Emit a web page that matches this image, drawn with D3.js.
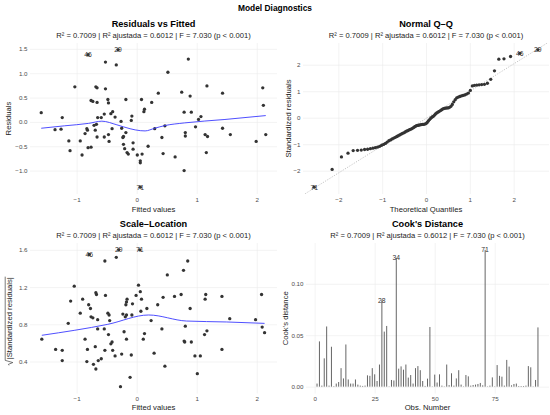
<!DOCTYPE html>
<html>
<head>
<meta charset="utf-8">
<script src="https://cdn.jsdelivr.net/npm/d3@7"></script>
<style>
  body { margin: 0; background: #fff; }
  text { font-family: "Liberation Sans", Arial, sans-serif; }
</style>
</head>
<body>
<script>
/* model diagnostics - four panels */

var subtitle = "R\u00b2 = 0.7009 | R\u00b2 ajustada = 0.6012 | F = 7.030 (p < 0.001)";

// residuals vs fitted
var rvfFitted = [-1.59,-1.36,-1.24,-1.26,-1.13,-1.11,-1.03,-0.94,-0.91,-0.86,
  -0.83,-0.82,-0.81,-0.76,-0.76,-0.73,-0.71,-0.69,-0.68,-0.66,
  -0.66,-0.67,-0.66,-0.65,-0.59,-0.54,-0.54,-0.52,-0.52,-0.48,
  -0.47,-0.47,-0.46,-0.43,-0.40,-0.41,-0.36,-0.34,-0.26,-0.25,
  -0.23,-0.22,-0.22,-0.20,-0.18,-0.18,-0.16,-0.14,-0.09,-0.08,
  -0.06,-0.06,0.01,0.06,0.06,0.08,0.09,0.12,0.13,0.19,
  0.25,0.30,0.36,0.42,0.44,0.47,0.52,0.64,0.75,0.79,
  0.81,0.81,0.79,0.86,0.89,0.91,0.98,1.03,1.07,1.14,
  1.16,1.17,1.18,1.43,1.43,1.56,1.99,2.10,2.11,2.15];
var rvfResid = [0.19,-0.16,0.09,-0.15,-0.39,-0.59,0.72,-0.39,-0.68,-0.24,
  -0.14,-0.17,-0.53,-0.52,0.44,0.42,-0.07,-0.17,0.72,0.70,
  0.40,-0.05,-0.31,0.09,0.09,0.16,-0.31,1.23,0.68,0.46,
  0.39,-0.26,-0.40,0.17,0.21,-0.14,0.10,1.17,0.01,-0.13,
  -0.32,-0.30,-0.46,-0.55,0.46,-0.22,-0.63,-0.66,0.03,0.12,
  -0.43,-0.56,-0.68,-0.80,-0.84,0.46,-0.66,0.21,0.26,-0.50,
  0.40,-0.14,0.59,-0.32,-0.65,-0.08,1.02,-0.72,0.61,0.20,
  -0.22,-0.29,-1.00,1.29,0.53,0.20,-0.10,0.05,0.11,-0.26,
  -0.63,0.74,-0.30,0.59,-0.13,-0.26,-0.40,0.70,0.34,-0.26];
var rvfLabelText = ["46", "29", "71"];
var rvfLabelFitted = [-0.81, -0.31, 0.06];
var rvfLabelResid = [1.38, 1.48, -1.34];
var rvfSmoothX = [-1.59,-1.2,-0.8,-0.58,-0.33,-0.11,0.06,0.14,0.3,0.47,0.8,1.47,2.15];
var rvfSmoothY = [-0.13,-0.08,-0.03,0.015,-0.06,-0.14,-0.18,-0.185,-0.13,-0.075,-0.02,0.05,0.13];

// normal q-q (sorted standardized residuals)
var qqSample = [-2.62,-1.95,-1.48,-1.34,-1.24,-1.23,-1.22,-1.20,-1.19,-1.17,
  -1.15,-1.13,-1.11,-1.08,-1.04,-1.01,-0.97,-0.92,-0.87,-0.84,
  -0.80,-0.77,-0.74,-0.71,-0.68,-0.65,-0.62,-0.59,-0.57,-0.54,
  -0.51,-0.49,-0.46,-0.44,-0.42,-0.39,-0.36,-0.33,-0.30,-0.29,
  -0.28,-0.27,-0.26,-0.255,-0.25,-0.24,-0.22,-0.18,-0.12,-0.07,
  -0.02,0.02,0.05,0.09,0.14,0.18,0.21,0.24,0.27,0.30,
  0.33,0.35,0.36,0.37,0.37,0.39,0.43,0.50,0.60,0.68,
  0.75,0.78,0.80,0.82,0.84,0.86,0.89,0.93,1.03,1.20,
  1.22,1.23,1.24,1.25,1.26,1.30,1.45,1.77,2.21,2.22,
  2.31,2.43,2.56];
var qqLabelText = ["71", "46", "29"];
var qqLabelRank = [1, 92, 93];
var qqLineSlope = 1.03;
var qqLineIntercept = -0.03;

// scale-location
var slFitted = [-1.58,-1.35,-1.24,-1.24,-1.14,-1.10,-1.04,-0.94,-0.90,-0.86,
  -0.83,-0.82,-0.80,-0.77,-0.76,-0.73,-0.72,-0.69,-0.68,-0.67,
  -0.65,-0.68,-0.65,-0.64,-0.59,-0.53,-0.54,-0.53,-0.52,-0.48,
  -0.46,-0.47,-0.45,-0.43,-0.41,-0.40,-0.36,-0.34,-0.27,-0.25,
  -0.23,-0.21,-0.18,-0.17,-0.17,-0.17,-0.16,-0.11,-0.09,-0.07,
  -0.08,-0.01,0.03,0.06,0.07,0.08,0.11,0.13,0.17,0.24,
  0.29,0.35,0.42,0.44,0.47,0.51,0.63,0.74,0.78,0.79,
  0.80,0.81,0.85,0.89,0.91,0.97,1.01,1.06,1.13,1.14,
  1.15,1.17,1.42,1.42,1.55,1.98,2.08,2.09,2.13,-0.19];
var slValue = [0.64,0.53,0.52,0.41,0.81,1.05,1.21,0.92,1.07,0.64,
  0.40,0.53,1.01,0.97,0.88,0.87,0.37,0.56,1.14,1.12,
  0.85,0.32,0.75,0.41,0.43,0.52,0.75,1.48,1.11,0.92,
  0.90,0.69,0.84,0.59,0.61,0.52,0.46,1.52,0.13,0.48,
  0.91,0.72,1.01,0.90,0.64,1.04,1.07,0.23,0.47,1.02,
  0.90,1.11,1.22,1.15,0.94,1.07,0.64,0.70,0.97,0.84,
  0.49,1.01,0.75,1.09,0.35,1.33,1.10,1.12,1.38,0.62,
  0.61,0.78,1.48,0.97,0.61,0.46,0.27,0.46,0.69,1.07,
  1.12,0.73,1.10,0.53,0.86,0.85,1.12,0.77,0.71,0.88];
var slLabelText = ["46", "29", "71"];
var slLabelFitted = [-0.79, -0.30, 0.05];
var slLabelValue = [1.55, 1.60, 1.60];
var slSmoothX = [-1.58,-0.48,0.2,0.83,1.5,2.13];
var slSmoothY = [0.682,0.80,0.90,0.835,0.825,0.81];

// cook's distance, obs 1..93
var cooks = [0.003,0.044,0.001,0.0275,0.0585,0.001,0.0388,0.0005,0.003,0.0045,
  0.018,0.008,0.041,0.007,0.003,0.003,0.007,0.002,0.001,0.0007,
  0.001,0.011,0.0105,0.018,0.012,0.0055,0.0215,0.084,0.0535,0.059,
  0.0003,0.0065,0.006,0.125,0.0175,0.0197,0.0165,0.0215,0.0088,0.0113,
  0.003,0.018,0.020,0.016,0.0055,0.0007,0.0078,0.058,0.0003,0.0117,
  0.004,0.012,0.001,0.0003,0.0215,0.0015,0.013,0.001,0.008,0.016,
  0.002,0.0003,0.0113,0.010,0.001,0.0016,0.002,0.0026,0.0036,0.0013,
  0.133,0.0003,0.001,0.009,0.0003,0.021,0.0105,0.0097,0.001,0.026,
  0.0195,0.0013,0.0026,0.003,0.0006,0.0006,0.0006,0.001,0.020,0.0188,
  0.0003,0.0065,0.0576];
var cooksLabelObs = [28, 34, 71];

var ptColor = "#333333", smoothColor = "#3b3bff";

var svg = d3.select("body").append("svg")
  .attr("width", 550)
  .attr("height", 415);

svg.append("text")
  .attr("x", 275).attr("y", 11.3)
  .attr("text-anchor", "middle")
  .attr("font-size", 8.4).attr("font-weight", "bold")
  .text("Model Diagnostics");

// ggplot style 5% expansion
function expand(ext) {
  var pad = (ext[1] - ext[0]) * 0.05;
  return [ext[0] - pad, ext[1] + pad];
}

// inverse normal cdf (Acklam)
function qnorm(p) {
  var a = [-3.969683028665376e+01, 2.209460984245205e+02, -2.759285104469687e+02, 1.383577518672690e+02, -3.066479806614716e+01, 2.506628277459239e+00];
  var b = [-5.447609879822406e+01, 1.615858368580409e+02, -1.556989798598866e+02, 6.680131188771972e+01, -1.328068155288572e+01];
  var c = [-7.784894002430293e-03, -3.223964580411365e-01, -2.400758277161838e+00, -2.549732539343734e+00, 4.374664141464968e+00, 2.938163982698783e+00];
  var d = [7.784695709041462e-03, 3.224671290700398e-01, 2.445134137142996e+00, 3.754408661907416e+00];
  var q, r;
  if (p < 0.02425) {
    q = Math.sqrt(-2 * Math.log(p));
    return (((((c[0]*q+c[1])*q+c[2])*q+c[3])*q+c[4])*q+c[5]) / ((((d[0]*q+d[1])*q+d[2])*q+d[3])*q+1);
  }
  if (p <= 1 - 0.02425) {
    q = p - 0.5; r = q * q;
    return (((((a[0]*r+a[1])*r+a[2])*r+a[3])*r+a[4])*r+a[5])*q / (((((b[0]*r+b[1])*r+b[2])*r+b[3])*r+b[4])*r+1);
  }
  q = Math.sqrt(-2 * Math.log(1 - p));
  return -(((((c[0]*q+c[1])*q+c[2])*q+c[3])*q+c[4])*q+c[5]) / ((((d[0]*q+d[1])*q+d[2])*q+d[3])*q+1);
}

// draws grid, tick labels and titles, returns scales
function panel(o) {
  var x = d3.scaleLinear().domain(o.xDomain).range([o.left, o.right]);
  var y = d3.scaleLinear().domain(o.yDomain).range([o.bottom, o.top]);
  var g = svg.append("g");

  var gx = g.append("g").attr("transform", "translate(0," + o.bottom + ")")
    .call(d3.axisBottom(x).tickValues(o.xTicks).tickSize(-(o.bottom - o.top)).tickFormat(""));
  var gy = g.append("g").attr("transform", "translate(" + o.left + ",0)")
    .call(d3.axisLeft(y).tickValues(o.yTicks).tickSize(-(o.right - o.left)).tickFormat(""));
  [gx, gy].forEach(function(a) {
    a.select(".domain").remove();
    a.selectAll("line").attr("stroke", "#ebebeb").attr("stroke-width", 0.6);
  });

  var lx = g.append("g").attr("transform", "translate(0," + o.bottom + ")")
    .call(d3.axisBottom(x).tickValues(o.xTicks).tickSize(0).tickPadding(o.xPad).tickFormat(o.xFmt));
  var ly = g.append("g").attr("transform", "translate(" + o.left + ",0)")
    .call(d3.axisLeft(y).tickValues(o.yTicks).tickSize(0).tickPadding(2.5).tickFormat(o.yFmt));
  [lx, ly].forEach(function(a) {
    a.select(".domain").remove();
    a.attr("font-family", null).attr("font-size", 6.2);
    a.selectAll("text").attr("fill", "#4d4d4d");
  });

  var cx = (o.left + o.right) / 2;
  g.append("text").attr("x", cx).attr("y", o.top - 16.4)
    .attr("text-anchor", "middle").attr("font-size", 9.2).attr("font-weight", "bold")
    .text(o.title);
  g.append("text").attr("x", cx).attr("y", o.top - 5.3)
    .attr("text-anchor", "middle").attr("font-size", 7.6).attr("fill", "#222")
    .text(subtitle);
  g.append("text").attr("x", cx).attr("y", o.xTitleY)
    .attr("text-anchor", "middle").attr("font-size", 7.7).attr("fill", "#222")
    .text(o.xTitle);
  if (o.yTitle) {
    g.append("text")
      .attr("transform", "translate(" + o.yTitleX + "," + ((o.top + o.bottom) / 2) + ") rotate(-90)")
      .attr("text-anchor", "middle").attr("dy", "0.35em")
      .attr("font-size", 7.7).attr("fill", "#222")
      .text(o.yTitle);
  }
  return { x: x, y: y, g: g };
}

function drawPoints(p, xs, ys) {
  p.g.append("g").selectAll("circle")
    .data(xs)
    .enter()
    .append("circle")
    .attr("cx", function(d) { return p.x(d); })
    .attr("cy", function(d, i) { return p.y(ys[i]); })
    .attr("r", 1.65)
    .attr("fill", ptColor);
}

function drawLabels(p, xs, ys, labels) {
  p.g.append("g").selectAll("text")
    .data(labels)
    .enter()
    .append("text")
    .attr("x", function(d, i) { return p.x(xs[i]); })
    .attr("y", function(d, i) { return p.y(ys[i]); })
    .attr("dy", "0.35em")
    .attr("text-anchor", "middle")
    .attr("font-size", 6.8)
    .attr("fill", "#333")
    .text(function(d) { return d; });
}

function drawSmooth(p, xs, ys) {
  var line = d3.line()
    .x(function(d) { return p.x(d); })
    .y(function(d, i) { return p.y(ys[i]); })
    .curve(d3.curveMonotoneX);
  p.g.append("path")
    .attr("d", line(xs))
    .attr("fill", "none")
    .attr("stroke", smoothColor)
    .attr("stroke-width", 0.9);
}

var fmt1 = d3.format(".1f"), fmt0 = d3.format("d"), fmt2 = d3.format(".2f");
var fittedDomain = expand(d3.extent(rvfFitted.concat(rvfLabelFitted)));

// 1. residuals vs fitted
var p1 = panel({
  left: 30, right: 277, top: 43, bottom: 194,
  xDomain: fittedDomain,
  yDomain: expand(d3.extent(rvfResid.concat(rvfLabelResid))),
  xTicks: [-1, 0, 1, 2], yTicks: [-1, -0.5, 0, 0.5, 1, 1.5],
  xFmt: fmt0, yFmt: fmt1, xPad: 4,
  title: "Residuals vs Fitted", xTitle: "Fitted values", xTitleY: 211.5,
  yTitle: "Residuals", yTitleX: 8.5
});
drawPoints(p1, rvfFitted.concat(rvfLabelFitted), rvfResid.concat(rvfLabelResid));
drawSmooth(p1, rvfSmoothX, rvfSmoothY);
drawLabels(p1, rvfLabelFitted, rvfLabelResid, rvfLabelText);

// 2. normal q-q
var n = qqSample.length;
var qqTheo = qqSample.map(function(d, i) { return qnorm((i + 0.5) / n); });
var p2 = panel({
  left: 303, right: 549, top: 43, bottom: 194,
  xDomain: expand(d3.extent(qqTheo)),
  yDomain: expand(d3.extent(qqSample)),
  xTicks: [-2, -1, 0, 1, 2], yTicks: [-2, -1, 0, 1, 2],
  xFmt: fmt0, yFmt: fmt0, xPad: 4,
  title: "Normal Q\u2013Q", xTitle: "Theoretical Quantiles", xTitleY: 211.5,
  yTitle: "Standardized residuals", yTitleX: 288.5
});
svg.append("clipPath").attr("id", "qqclip")
  .append("rect")
  .attr("x", 303).attr("y", 43).attr("width", 246).attr("height", 151);
var qx0 = p2.x.domain()[0], qx1 = p2.x.domain()[1];
p2.g.append("line")
  .attr("clip-path", "url(#qqclip)")
  .attr("x1", p2.x(qx0)).attr("y1", p2.y(qqLineIntercept + qqLineSlope * qx0))
  .attr("x2", p2.x(qx1)).attr("y2", p2.y(qqLineIntercept + qqLineSlope * qx1))
  .attr("stroke", "#aaaaaa").attr("stroke-width", 0.7)
  .attr("stroke-dasharray", "1.2,1.4");
drawPoints(p2, qqTheo, qqSample);
drawLabels(p2,
  qqLabelRank.map(function(r) { return qqTheo[r - 1]; }),
  qqLabelRank.map(function(r) { return qqSample[r - 1]; }),
  qqLabelText);

// 3. scale-location
var p3 = panel({
  left: 30, right: 277, top: 243, bottom: 393.5,
  xDomain: fittedDomain,
  yDomain: expand(d3.extent(slValue.concat(slLabelValue))),
  xTicks: [-1, 0, 1, 2], yTicks: [0.4, 0.8, 1.2, 1.6],
  xFmt: fmt0, yFmt: fmt1, xPad: 3,
  title: "Scale\u2013Location", xTitle: "Fitted values", xTitleY: 410,
  yTitle: null
});
// y title: sqrt(|Standardized residuals|)
var yt = p3.g.append("g")
  .attr("transform", "translate(12," + ((243 + 393.5) / 2) + ") rotate(-90)");
var ytText = yt.append("text")
  .attr("text-anchor", "middle")
  .attr("font-size", 7.7).attr("fill", "#222")
  .text("|Standardized residuals|");
var tw = ytText.node().getComputedTextLength();
var barY = -6.8;
yt.append("path")
  .attr("d", "M" + (-tw / 2 - 6) + ",-3 L" + (-tw / 2 - 5) + ",-3.6 L" + (-tw / 2 - 3.2) + ",0.8 L" +
    (-tw / 2 - 1) + "," + barY + " L" + (tw / 2 + 0.5) + "," + barY)
  .attr("fill", "none").attr("stroke", "#222").attr("stroke-width", 0.6);
drawPoints(p3, slFitted.concat(slLabelFitted), slValue.concat(slLabelValue));
drawSmooth(p3, slSmoothX, slSmoothY);
drawLabels(p3, slLabelFitted, slLabelValue, slLabelText);

// 4. cook's distance
var obs = cooks.map(function(d, i) { return i + 1; });
var p4 = panel({
  left: 306, right: 549, top: 243, bottom: 393.5,
  xDomain: expand(d3.extent(obs)),
  yDomain: expand([0, d3.max(cooks)]),
  xTicks: [0, 25, 50, 75], yTicks: [0, 0.05, 0.10],
  xFmt: fmt0, yFmt: fmt2, xPad: 3,
  title: "Cook's Distance", xTitle: "Obs. Number", xTitleY: 410,
  yTitle: "Cook's distance", yTitleX: 285
});
p4.g.append("g").selectAll("line")
  .data(cooks)
  .enter()
  .append("line")
  .attr("x1", function(d, i) { return p4.x(obs[i]); })
  .attr("x2", function(d, i) { return p4.x(obs[i]); })
  .attr("y1", p4.y(0))
  .attr("y2", function(d) { return p4.y(d); })
  .attr("stroke", "#555")
  .attr("stroke-width", 0.9);
drawLabels(p4, cooksLabelObs,
  cooksLabelObs.map(function(o) { return cooks[o - 1]; }),
  cooksLabelObs.map(function(o) { return String(o); }));
</script>
</body>
</html>
